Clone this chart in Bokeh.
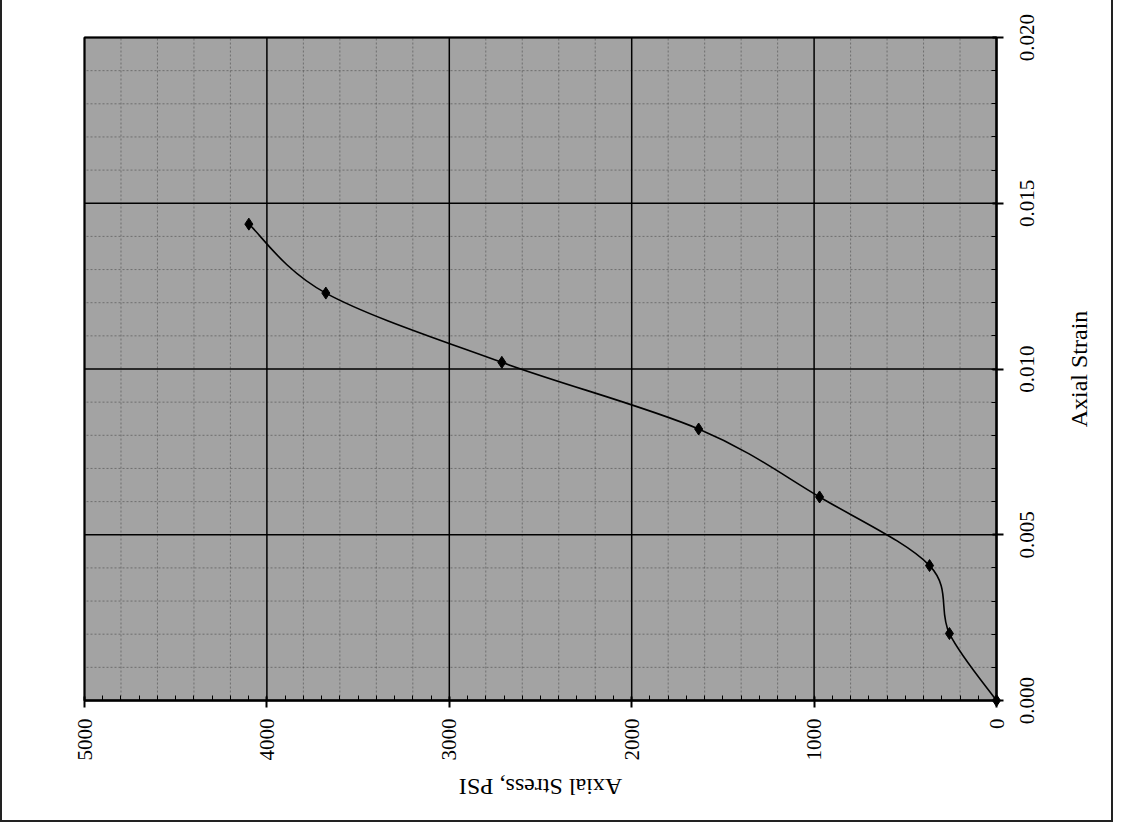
import math
import numpy as np
from bokeh.plotting import figure
from bokeh.models import Range1d, LinearAxis, SingleIntervalTicker, CustomJSTickFormatter
from bokeh.core.properties import value
from bokeh.embed import file_html
from bokeh.resources import INLINE

# data
axial_stress_psi = [0, 258, 367, 970, 1633, 2712, 3677, 4099]
axial_strain = [0.0, 0.00202, 0.00407, 0.00614, 0.00819, 0.0102, 0.01229, 0.01437]
stress_ticks = [0, 1000, 2000, 3000, 4000, 5000]
strain_ticks = [0.000, 0.005, 0.010, 0.015, 0.020]
strain_labels = ["0.000", "0.005", "0.010", "0.015", "0.020"]
x_title = "Axial Strain"
y_title = "Axial Stress, PSI"

FONT = "Liberation Serif"
GRAY = "#a3a3a3"

# canvas and chart-area pixel layout (the page is scanned rotated by 90 degrees)
W, H = 1113, 822
PX_L, PX_R, PX_T, PX_B = 82, 994, 37, 700

s_lo, s_hi = min(stress_ticks), max(stress_ticks)
e_lo, e_hi = min(strain_ticks), max(strain_ticks)
kx = (PX_R - PX_L) / (s_hi - s_lo)
ky = (PX_B - PX_T) / (e_hi - e_lo)
x_range = Range1d(s_hi + PX_L / kx, s_lo - (W - PX_R) / kx)
y_range = Range1d(e_lo - (H - PX_B) / ky, e_hi + PX_T / ky)

p = figure(width=W, height=H, output_backend="svg", toolbar_location=None,
           x_range=x_range, y_range=y_range,
           x_axis_location=None, y_axis_location=None, min_border=0)
p.styles = {"border-left": "2px solid #222", "border-right": "2px solid #222",
            "border-bottom": "2px solid #222"}
p.background_fill_color = "white"
p.border_fill_color = "white"
p.outline_line_color = None
p.grid.visible = False

# plot area
p.quad(left=[s_hi], right=[s_lo], bottom=[e_lo], top=[e_hi],
       fill_color=GRAY, line_color=None)

# minor grid
stress_minor = [v for v in np.arange(s_lo, s_hi, 200.0) if v % 1000 != 0]
strain_minor = [round(v, 4) for v in np.arange(e_lo, e_hi, 0.001) if round(v / 0.005, 6) % 1 != 0]
p.segment(x0=stress_minor, x1=stress_minor, y0=[e_lo] * len(stress_minor), y1=[e_hi] * len(stress_minor),
          line_color="#454545", line_dash="2 2", line_alpha=0.55, line_width=1)
p.segment(x0=[s_lo] * len(strain_minor), x1=[s_hi] * len(strain_minor), y0=strain_minor, y1=strain_minor,
          line_color="#454545", line_dash="2 2", line_alpha=0.55, line_width=1)
# major grid
p.segment(x0=stress_ticks, x1=stress_ticks, y0=[e_lo] * len(stress_ticks), y1=[e_hi] * len(stress_ticks),
          line_color="black", line_width=1.5)
p.segment(x0=[s_lo] * len(strain_ticks), x1=[s_hi] * len(strain_ticks), y0=strain_ticks, y1=strain_ticks,
          line_color="black", line_width=1.5)
# outline of plot area
p.quad(left=[s_hi], right=[s_lo], bottom=[e_lo], top=[e_hi],
       fill_color=None, line_color="black", line_width=2)

# axes drawn at the edges of the plot area
xaxis = LinearAxis(fixed_location=e_lo, bounds=(s_lo, s_hi),
                   ticker=SingleIntervalTicker(interval=1000, num_minor_ticks=10))
yaxis = LinearAxis(fixed_location=s_lo, bounds=(e_lo, e_hi),
                   ticker=SingleIntervalTicker(interval=0.005, num_minor_ticks=5),
                   formatter=CustomJSTickFormatter(code="return ''"))
for ax in (xaxis, yaxis):
    ax.major_label_text_font = FONT
    ax.major_label_text_font_size = "21px"
    ax.major_label_text_color = "black"
    ax.major_label_orientation = math.pi / 2
    ax.major_tick_in = 4
    ax.major_tick_out = 7
    ax.minor_tick_in = 5
    ax.minor_tick_out = 0
    ax.axis_line_width = 2
    ax.major_tick_line_width = 2
xaxis.major_label_standoff = 11
p.add_layout(xaxis, "below")
p.add_layout(yaxis, "right")

# strain tick labels, rotated and centred on their ticks
p.text(x=[s_lo] * len(strain_ticks), y=strain_ticks, text=strain_labels,
       angle=math.pi / 2, x_offset=30, text_align="center", text_baseline="middle",
       text_font=value(FONT), text_font_size="21px", text_color="black")

# axis titles
p.text(x=[(s_lo + s_hi) / 2], y=[e_lo], text=[y_title], angle=math.pi, y_offset=86,
       text_align="center", text_baseline="middle",
       text_font=value(FONT), text_font_size="24px", text_color="black")
p.text(x=[s_lo], y=[(e_lo + e_hi) / 2], text=[x_title], angle=math.pi / 2, x_offset=82,
       text_align="center", text_baseline="middle",
       text_font=value(FONT), text_font_size="24px", text_color="black")

# smoothed connecting curve (cubic Bezier through the data points)
n = len(axial_stress_psi)
x0, y0, x1, y1, cx0, cy0, cx1, cy1 = [], [], [], [], [], [], [], []
for i in range(n - 1):
    im = max(i - 1, 0)
    ip2 = min(i + 2, n - 1)
    x0.append(axial_stress_psi[i]); y0.append(axial_strain[i])
    x1.append(axial_stress_psi[i + 1]); y1.append(axial_strain[i + 1])
    cx0.append(axial_stress_psi[i] + (axial_stress_psi[i + 1] - axial_stress_psi[im]) / 6)
    cy0.append(axial_strain[i] + (axial_strain[i + 1] - axial_strain[im]) / 6)
    cx1.append(axial_stress_psi[i + 1] - (axial_stress_psi[ip2] - axial_stress_psi[i]) / 6)
    cy1.append(axial_strain[i + 1] - (axial_strain[ip2] - axial_strain[i]) / 6)
p.bezier(x0=x0, y0=y0, x1=x1, y1=y1, cx0=cx0, cy0=cy0, cx1=cx1, cy1=cy1,
         line_color="black", line_width=1.6)

p.scatter(axial_stress_psi, axial_strain, marker="diamond", size=12,
          fill_color="black", line_color="black")

open("out.html", "w").write(file_html(p, INLINE))
